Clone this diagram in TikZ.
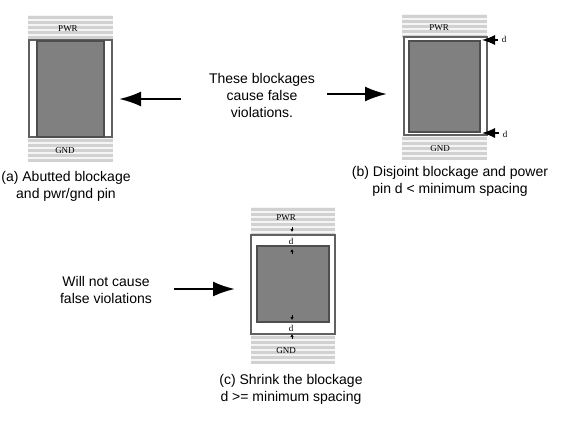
\documentclass[tikz,border=0pt]{standalone}
\usepackage{fontspec}
\setmainfont{Liberation Sans}
\newfontfamily\pinfont{Liberation Serif}
\usetikzlibrary{arrows.meta}
\definecolor{stripe}{gray}{0.82}
\definecolor{stripebg}{gray}{0.96}
\definecolor{blockfill}{gray}{0.5}
\definecolor{blockline}{gray}{0.38}
\tikzset{%
    captxt/.style={font=\fontsize{14}{17}\selectfont,align=center,inner sep=0pt},
    pintxt/.style={font=\pinfont\fontsize{9}{10}\selectfont,inner sep=0pt},
    outerbox/.style={draw=blockline,line width=1.4pt,fill=white},
    blockbox/.style={draw=blockline!80!black,line width=1.4pt,fill=blockfill},
    bigarrow/.style={line width=2.4pt,-{Latex[length=22pt,width=15pt]}},
    smallarrow/.style={line width=1.2pt,-{Latex[length=13pt,width=10pt]}},
    tinyarrow/.style={line width=.6pt,-{Latex[length=3pt,width=3.5pt]}}
}
\newcommand{\stripes}[4]{% x1, x2, y1, y2
    \fill[stripebg] (#1,#3) rectangle (#2,#4);
    \pgfmathsetmacro{\ystart}{#3+1.2}
    \pgfmathsetmacro{\ynext}{#3+6.2}
    \foreach \y in {\ystart,\ynext,...,#4}
        \fill[stripe] (#1,\y) rectangle (#2,\y+2.4);
}
\begin{document}
\begin{tikzpicture}[x=1pt,y=-1pt]
    \useasboundingbox (0,0) rectangle (567,420);
    \fill[white] (0,0) rectangle (567,420);

    % panel a
    \stripes{28}{113}{15}{40}
    \stripes{28}{113}{138}{161}
    \draw[outerbox] (29,40) rectangle (112,137);
    \draw[blockbox] (37,41) rectangle (104,137);
    \node[pintxt] (pwra) at (68,29) {PWR};
    \node[pintxt] (gnda) at (65,151) {GND};
    \node[captxt] (capa) at (66,186) {(a) Abutted blockage\\and pwr/gnd pin};

    % panel b
    \stripes{402}{487}{14}{36}
    \stripes{402}{487}{136}{158}
    \draw[outerbox] (404,37) rectangle (487,135);
    \draw[blockbox] (409,41) rectangle (480,132);
    \node[pintxt] (pwrb) at (439,28) {PWR};
    \node[pintxt] (gndb) at (440,149) {GND};
    \node[pintxt] (d1) at (504,39) {d};
    \node[pintxt] (d2) at (505,134) {d};
    \coordinate (d1tip) at (482,40);
    \coordinate (d2tip) at (482,133);
    \draw[smallarrow] (d1) ++(-6,1) -- (d1tip);
    \draw[smallarrow] (d2) ++(-6,-1) -- (d2tip);
    \node[captxt] (capb) at (450,181.5) {(b) Disjoint blockage and power\\pin d < minimum spacing};

    % panel c
    \stripes{251}{335}{207}{234}
    \stripes{251}{335}{335}{362}
    \draw[outerbox] (251,235) rectangle (335,334);
    \draw[blockbox] (257,246) rectangle (329,322);
    \node[pintxt] (pwrc) at (286,218) {PWR};
    \node[pintxt] (gndc) at (286,351) {GND};
    \node[pintxt] (d3) at (291,241.5) {d};
    \node[pintxt] (d4) at (291,328.5) {d};
    \coordinate (t1) at (292,227);
    \coordinate (t2) at (292,232);
    \coordinate (t3) at (292,254);
    \coordinate (t4) at (292,249);
    \coordinate (t5) at (292,320);
    \coordinate (t6) at (292,315);
    \coordinate (t7) at (292,339);
    \coordinate (t8) at (292,334);
    \draw[tinyarrow] (t1) -- (t2);
    \draw[tinyarrow] (t3) -- (t4);
    \draw[tinyarrow] (t6) -- (t5);
    \draw[tinyarrow] (t7) -- (t8);
    \node[captxt] (capc) at (291,389.5) {(c) Shrink the blockage\\d >= minimum spacing};

    % notes and arrows
    \node[captxt] (notea) at (262,95) {These blockages\\cause false\\violations.};
    \node[captxt] (noteb) at (106,290) {Will not cause\\false violations};
    \coordinate (a1) at (181,99);
    \coordinate (a2) at (119,99);
    \coordinate (b1) at (327,94);
    \coordinate (b2) at (387,94);
    \coordinate (c1) at (174,289);
    \coordinate (c2) at (235,289);
    \draw[bigarrow] (a1) -- (a2);
    \draw[bigarrow] (b1) -- (b2);
    \draw[bigarrow] (c1) -- (c2);
\end{tikzpicture}
\end{document}
